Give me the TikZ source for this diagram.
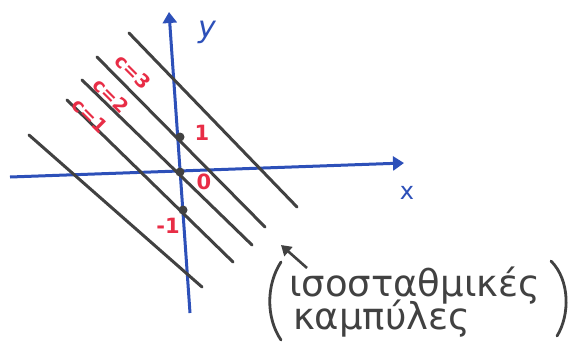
\documentclass[tikz,border=0pt]{standalone}
\usepackage{fontspec}
\setmainfont{DejaVu Sans}
\usepackage{xcolor}
\usepackage{tikz}
\usetikzlibrary{
    arrows.meta,
    positioning
}
\definecolor{penBlue}{RGB}{45,80,185}
\definecolor{penRed}{RGB}{232,45,70}
\definecolor{penGray}{RGB}{65,65,65}

\begin{document}
\begin{tikzpicture}[
    x=1pt,
    y=-1pt,
    axis/.style={penBlue, line width=3pt, -{Triangle[length=11pt,width=14pt]}},
    level/.style={penGray, line width=3pt, line cap=round},
    clabel/.style={text=penRed, font=\fontsize{19}{19}\selectfont\bfseries, rotate=-45, inner sep=0pt},
    tick/.style={text=penRed, font=\fontsize{21}{21}\selectfont\bfseries},
    dot/.style={circle, fill=penGray, inner sep=0pt, minimum size=9pt},
    note/.style={text=penGray, font=\fontsize{37}{38}\selectfont, anchor=west, inner sep=0pt}
]
\useasboundingbox (0,0) rectangle (569,341);

% =============================================================
% Axes
% =============================================================
\coordinate (xs) at (10,177);
\coordinate (xe) at (404,163);
\coordinate (ys) at (190,313);
\coordinate (ye) at (169,12);

\draw[axis] (xs) -- (xe);
\draw[axis] (ys) -- (ye);

\node[text=penBlue, font=\fontsize{30}{30}\selectfont\itshape] (ylab) at (207,32) {y};
\node[text=penBlue, font=\fontsize{24}{24}\selectfont] (xlab) at (407,193) {x};

% =============================================================
% Level lines
% =============================================================
\coordinate (a1) at (129,33);  \coordinate (b1) at (297,207);
\coordinate (a2) at (97,57);   \coordinate (b2) at (265,227);
\coordinate (a3) at (82,80);   \coordinate (b3) at (252,245);
\coordinate (a4) at (67,100);  \coordinate (b4) at (233,262);
\coordinate (a5) at (29,135);  \coordinate (b5) at (202,287);

\foreach \i in {1,...,5}{
    \draw[level] (a\i) -- (b\i);
}

% Crossings with the y-axis
\node[dot] (p1) at (180,137) {};
\node[dot] (p0) at (180,172) {};
\node[dot] (pm) at (183,210) {};

\node[tick] (t1) at (202,133) {1};
\node[tick] (t0) at (204,182) {0};
\node[tick] (tm) at (168,226) {-1};

% Line labels
\node[clabel] (c3) at (133,72) {c=3};
\node[clabel] (c2) at (111,96) {c=2};
\node[clabel] (c1) at (90,116) {c=1};

% =============================================================
% Note
% =============================================================
\node[note] (n1) at (289,286) {ισοσταθμικές};
\node[note] (n2) at (293,319) {καμπύλες};

\coordinate (tail) at (307,268);
\coordinate (tip) at (281,245);
\draw[penGray, line width=2.6pt, -{Triangle[length=10pt,width=12pt]}] (tail) -- (tip);

% Brackets round the note
\draw[penGray, line width=2.8pt, line cap=round]
    (281,262) .. controls (266,285) and (266,318) .. (281,340);
\draw[penGray, line width=2.8pt, line cap=round]
    (551,261) .. controls (570,280) and (570,315) .. (557,336);

\end{tikzpicture}
\end{document}
